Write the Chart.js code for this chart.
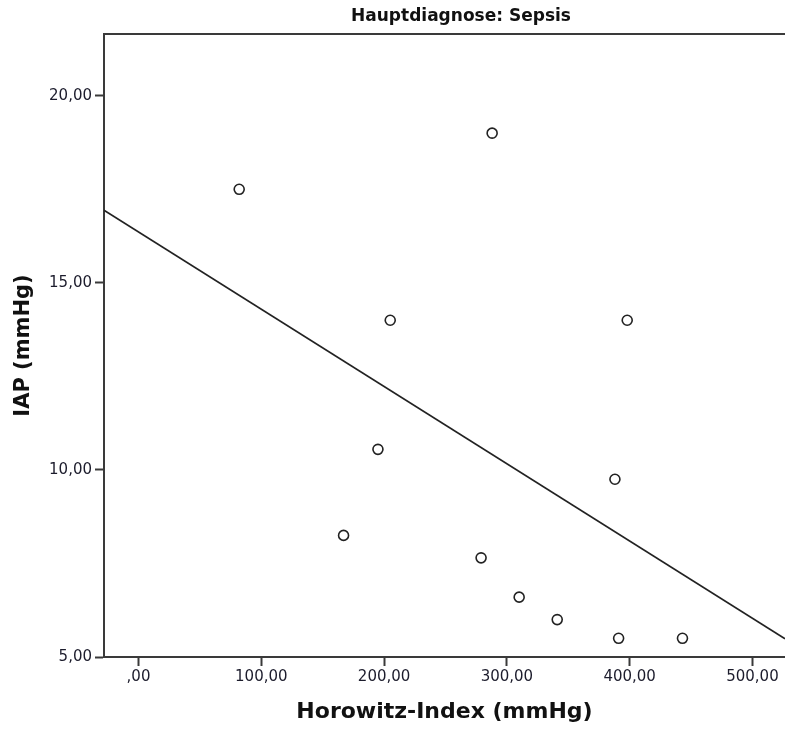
<!DOCTYPE html>
<html>
<head>
<meta charset="utf-8">
<script src="https://cdn.jsdelivr.net/npm/chart.js@4"></script>
<style>
  html, body { margin: 0; padding: 0; background: #fff; overflow: hidden; }
  #wrap { width: 785px; height: 729px; }
</style>
</head>
<body>
<div id="wrap"><canvas id="myChart"></canvas></div>
<script>
// Horowitz-Index vs. IAP, Patienten mit Hauptdiagnose Sepsis
const horowitz = [82, 288, 205, 398, 195, 388, 167, 279, 310, 341, 391, 443];
const iap = [17.5, 19.0, 14.0, 14.0, 10.55, 9.75, 8.25, 7.65, 6.6, 6.0, 5.5, 5.5];

const xTicks = [0, 100, 200, 300, 400, 500];
const yTicks = [5, 10, 15, 20];

const xMin = -28.1, xMax = 526.5;
const yMin = 5, yMax = 21.65;

const axisColor = '#3a3a3a';
const labelColor = '#1c1c2c';

// lineare Regression (kleinste Quadrate)
function fitLine(xs, ys) {
    let n = xs.length;
    let mx = xs.reduce((a, b) => a + b, 0) / n;
    let my = ys.reduce((a, b) => a + b, 0) / n;
    let sxy = 0, sxx = 0;
    for (let i = 0; i < n; i++) {
        sxy += (xs[i] - mx) * (ys[i] - my);
        sxx += (xs[i] - mx) * (xs[i] - mx);
    }
    let b = sxy / sxx;
    return { a: my - b * mx, b: b };
}

const fit = fitLine(horowitz, iap);
const points = horowitz.map((x, i) => ({ x: x, y: iap[i] }));
const fitPoints = [
    { x: xMin, y: fit.a + fit.b * xMin },
    { x: xMax, y: fit.a + fit.b * xMax }
];

function fmt(v) {
    if (v === 0) return ',00';
    return v.toFixed(2).replace('.', ',');
}

// Titel und obere Rahmenlinie
const framePlugin = {
    id: 'frame',
    afterDraw(chart) {
        let c = chart.ctx;
        let area = chart.chartArea;
        c.save();
        c.strokeStyle = axisColor;
        c.lineWidth = 2;
        c.beginPath();
        c.moveTo(area.left, area.top);
        c.lineTo(area.right, area.top);
        c.stroke();
        c.fillStyle = '#111';
        c.font = 'bold 17px "DejaVu Sans"';
        c.textAlign = 'center';
        c.textBaseline = 'middle';
        c.fillText('Hauptdiagnose: Sepsis', 461, 17);
        c.restore();
    }
};

let ctx = document.getElementById('myChart').getContext('2d');
let chart = new Chart(ctx, {
    type: 'scatter',
    data: {
        datasets: [{
            label: 'IAP',
            data: points,
            pointStyle: 'circle',
            pointRadius: 5,
            pointBorderWidth: 1.6,
            pointBorderColor: '#222',
            pointBackgroundColor: '#fff',
            order: 1
        }, {
            type: 'line',
            label: 'Regression',
            data: fitPoints,
            borderColor: '#222',
            borderWidth: 1.6,
            pointRadius: 0,
            fill: false,
            order: 2
        }]
    },
    options: {
        responsive: true,
        maintainAspectRatio: false,
        animation: false,
        layout: {
            autoPadding: false,
            padding: { top: 34, left: 0, right: 0, bottom: 0 }
        },
        plugins: {
            legend: { display: false },
            tooltip: { enabled: false },
            title: { display: false }
        },
        scales: {
            x: {
                type: 'linear',
                min: xMin,
                max: xMax,
                afterBuildTicks: function (scale) {
                    scale.ticks = xTicks.map(v => ({ value: v }));
                },
                afterFit: function (scale) {
                    scale.height = 72;
                    scale.paddingLeft = 0;
                    scale.paddingRight = 0;
                },
                border: { display: true, color: axisColor, width: 2 },
                grid: {
                    drawOnChartArea: false,
                    drawTicks: true,
                    tickLength: 9,
                    tickColor: axisColor,
                    tickWidth: 2
                },
                ticks: {
                    autoSkip: false,
                    maxRotation: 0,
                    padding: 2,
                    color: labelColor,
                    font: { family: '"DejaVu Sans"', size: 15 },
                    callback: v => fmt(v)
                },
                title: {
                    display: true,
                    text: 'Horowitz-Index (mmHg)',
                    color: '#111',
                    font: { family: '"DejaVu Sans"', size: 22, weight: 'bold' },
                    padding: { top: 0, bottom: 4 }
                }
            },
            y: {
                type: 'linear',
                min: yMin,
                max: yMax,
                afterBuildTicks: function (scale) {
                    scale.ticks = yTicks.map(v => ({ value: v }));
                },
                afterFit: function (scale) {
                    scale.width = 104;
                    scale.paddingTop = 0;
                    scale.paddingBottom = 0;
                },
                border: { display: true, color: axisColor, width: 2 },
                grid: {
                    drawOnChartArea: false,
                    drawTicks: true,
                    tickLength: 9,
                    tickColor: axisColor,
                    tickWidth: 2
                },
                ticks: {
                    autoSkip: false,
                    padding: 3,
                    color: labelColor,
                    font: { family: '"DejaVu Sans"', size: 15 },
                    callback: v => fmt(v)
                },
                title: {
                    display: true,
                    text: 'IAP (mmHg)',
                    color: '#111',
                    font: { family: '"DejaVu Sans"', size: 21, weight: 'bold' },
                    padding: { top: 11, bottom: 0 }
                }
            }
        }
    },
    plugins: [framePlugin]
});
</script>
</body>
</html>
